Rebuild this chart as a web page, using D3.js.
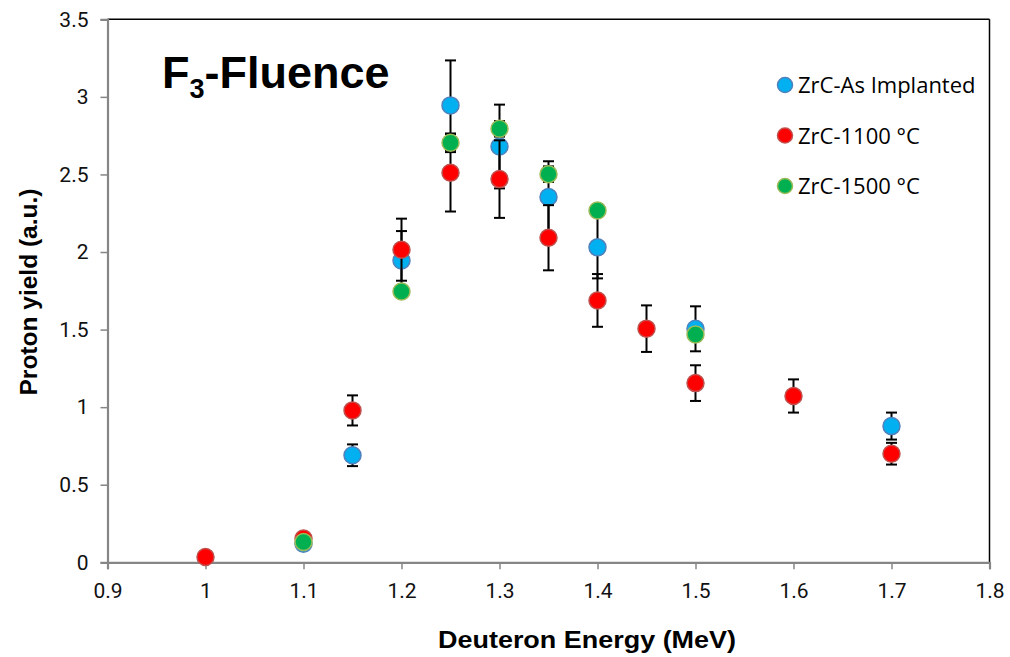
<!DOCTYPE html>
<html><head><meta charset="utf-8">
<script src="https://cdn.jsdelivr.net/npm/d3@7/dist/d3.min.js"></script>
<style>body{margin:0;background:#fff;}svg{display:block;}</style>
</head><body><svg id="c" width="1010" height="657"></svg>
<script>
const xTicks = [0.9,1.0,1.1,1.2,1.3,1.4,1.5,1.6,1.7,1.8];
const yTicks = [0,0.5,1,1.5,2,2.5,3,3.5];
const seriesNames = ["ZrC-As Implanted","ZrC-1100 °C","ZrC-1500 °C"];

const blueX = [1.1,1.15,1.2,1.25,1.3,1.35,1.4,1.5,1.7];
const blueY = [0.12,0.69,1.945,2.945,2.68,2.355,2.03,1.505,0.878];
const blueErr = [0.02,0.07,0.19,0.29,0.27,0.23,0.2,0.145,0.087];

const redX = [1.0,1.1,1.15,1.2,1.25,1.3,1.35,1.4,1.45,1.5,1.6,1.7];
const redY = [0.034,0.153,0.979,2.015,2.511,2.47,2.092,1.688,1.506,1.155,1.072,0.70];
const redErr = [0,0.02,0.097,0.2,0.25,0.25,0.21,0.17,0.15,0.115,0.107,0.07];

const greenX = [1.1,1.2,1.25,1.3,1.35,1.4,1.5];
const greenY = [0.131,1.746,2.704,2.794,2.502,2.268,1.469];
const greenErr = [0.02,0.03,0.06,0.05,0.05,0.04,0.04];

const styles = [
  {fill:"#00b0f0", stroke:"#4f81bd"},
  {fill:"#ff0000", stroke:"#c0504d"},
  {fill:"#00b050", stroke:"#9bbb59"}
];
const series = [
  {name:seriesNames[0], x:blueX, y:blueY, e:blueErr},
  {name:seriesNames[1], x:redX, y:redY, e:redErr},
  {name:seriesNames[2], x:greenX, y:greenY, e:greenErr}
];

const svg = d3.select("#c");
const L=107.5, R=989.5, T=19.3, B=562.3;
const x = d3.scaleLinear().domain([0.9,1.8]).range([L,R]);
const y = d3.scaleLinear().domain([0,3.5]).range([B,T]);

// top & right border
svg.append("line").attr("x1",L).attr("x2",R).attr("y1",T).attr("y2",T).attr("stroke","#000").attr("stroke-width",1.5);
svg.append("line").attr("x1",R).attr("x2",R).attr("y1",T).attr("y2",B).attr("stroke","#000").attr("stroke-width",1.5);

const tickFont = "Roboto, 'Liberation Sans', Arial, sans-serif";
const yAx = svg.append("g").attr("transform",`translate(${L},0)`)
  .call(d3.axisLeft(y).tickValues(yTicks).tickSize(7).tickPadding(12).tickFormat(d=>d3.format("")(d)));
const xAx = svg.append("g").attr("transform",`translate(0,${B})`)
  .call(d3.axisBottom(x).tickValues(xTicks).tickSize(7).tickPadding(14).tickFormat(d=>d3.format("")(+d.toFixed(1))));
[yAx,xAx].forEach(g=>{
  g.select(".domain").attr("stroke","#868686").attr("stroke-width",2.2);
  g.selectAll(".tick line").attr("stroke","#868686").attr("stroke-width",1.5);
  g.selectAll(".tick text").attr("fill","#111").style("font-family",tickFont).style("font-size","21px");
});

// series
series.forEach((s,i)=>{
  const g = svg.append("g");
  const pts = s.x.map((xv,j)=>({x:xv,y:s.y[j],e:s.e[j]}));
  const eb = g.selectAll("g.eb").data(pts).enter().append("g").attr("stroke","#000").attr("stroke-width",2);
  eb.append("line").attr("x1",d=>x(d.x)).attr("x2",d=>x(d.x)).attr("y1",d=>y(d.y-d.e)).attr("y2",d=>y(d.y+d.e));
  eb.append("line").attr("x1",d=>x(d.x)-5.5).attr("x2",d=>x(d.x)+5.5).attr("y1",d=>y(d.y+d.e)).attr("y2",d=>y(d.y+d.e));
  eb.append("line").attr("x1",d=>x(d.x)-5.5).attr("x2",d=>x(d.x)+5.5).attr("y1",d=>y(d.y-d.e)).attr("y2",d=>y(d.y-d.e));
  g.selectAll("circle").data(pts).enter().append("circle")
    .attr("cx",d=>x(d.x)).attr("cy",d=>y(d.y)).attr("r",8.5)
    .attr("fill",styles[i].fill).attr("stroke",styles[i].stroke).attr("stroke-width",1.5);
});

// legend
const leg = svg.append("g");
series.forEach((s,i)=>{
  const ly = 85 + i*50.5;
  leg.append("circle").attr("cx",785).attr("cy",ly).attr("r",7.5)
    .attr("fill",styles[i].fill).attr("stroke",styles[i].stroke).attr("stroke-width",1.5);
  leg.append("text").attr("x",798).attr("y",ly+8).text(s.name)
    .style("font-family","'Open Sans', 'DejaVu Sans', sans-serif").style("font-size","22px").attr("fill","#000");
});

// title
const title = svg.append("text").attr("x",162).attr("y",88)
  .style("font-family","'Liberation Sans', Arial, sans-serif").style("font-weight","bold").style("font-size","45px").attr("fill","#000");
title.append("tspan").text("F");
title.append("tspan").attr("dy",10).style("font-size","27px").text("3");
title.append("tspan").attr("dy",-10).text("-Fluence");

// axis titles
svg.append("text").attr("x",587).attr("y",648).attr("text-anchor","middle")
  .attr("textLength",298).attr("lengthAdjust","spacingAndGlyphs")
  .style("font-family","'Liberation Sans', Arial, sans-serif").style("font-weight","bold").style("font-size","24px")
  .text("Deuteron Energy (MeV)");
svg.append("text").attr("transform","translate(37,292) rotate(-90)").attr("text-anchor","middle")
  .attr("textLength",207).attr("lengthAdjust","spacingAndGlyphs")
  .style("font-family","'Liberation Sans', Arial, sans-serif").style("font-weight","bold").style("font-size","23px")
  .text("Proton yield (a.u.)");
</script></body></html>
